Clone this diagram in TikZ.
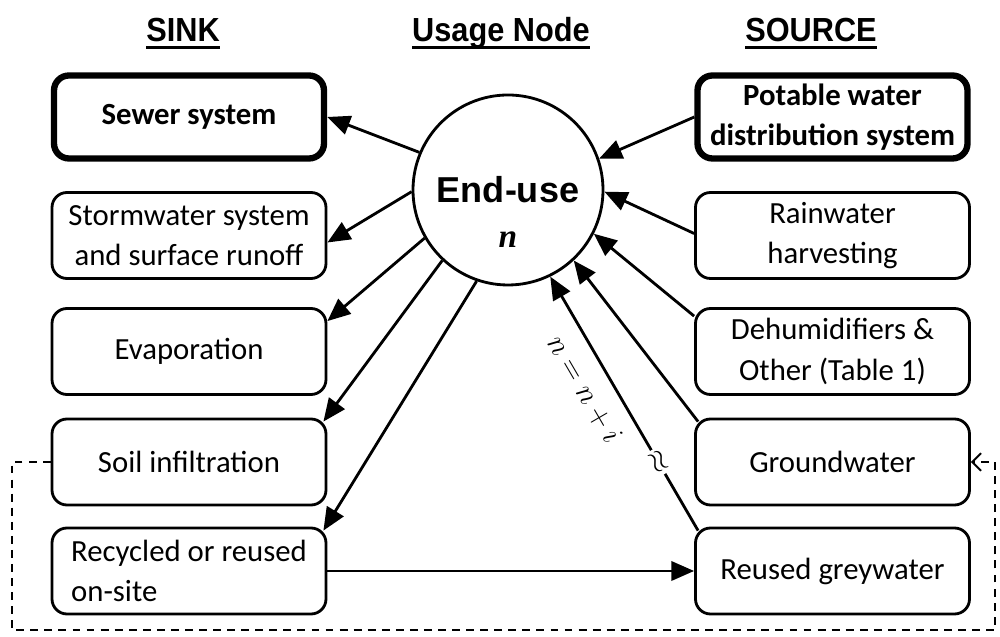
\documentclass[tikz,border=0pt]{standalone}
\usepackage{fontspec}
\setmainfont{Carlito}
\newfontfamily\headfont[FakeStretch=0.92]{Liberation Sans}
\newfontfamily\arialfont{Liberation Sans}
\newfontfamily\timesfont{Liberation Serif}
\usetikzlibrary{arrows.meta}
\newcommand{\headul}[1]{\setbox0\hbox{#1}\rlap{\rule[-4pt]{\wd0}{1.6pt}}\box0}

\begin{document}
\begin{tikzpicture}
            [box/.style={draw, rounded corners=0.3cm, line width=1.6pt, minimum width=5.48cm, minimum height=1.72cm, inner sep=0pt, align=center, font=\fontsize{17.5}{23}\selectfont},
            thickbox/.style={box, line width=3.6pt, minimum width=5.4cm, minimum height=1.66cm, font=\fontsize{17.5}{23}\selectfont\bfseries},
            heading/.style={anchor=base, font=\headfont\bfseries\fontsize{19}{22}\selectfont},
            arr/.style={-{Triangle[length=13pt,width=11pt]}, line width=1.6pt},
            feedback/.style={-{Straight Barb[length=5pt,width=10pt]}, line width=1.1pt, dash pattern=on 4.5pt off 3.5pt}]

            \useasboundingbox (0,0) rectangle (20,12.74);

            \node[heading] (sinkhead) at (3.66,11.9) {\headul{SINK}};
            \node[heading] (usagehead) at (10.02,11.9) {\headul{Usage Node}};
            \node[heading] (sourcehead) at (16.22,11.9) {\headul{SOURCE}};

            \node[circle, draw, line width=1.6pt, minimum size=3.8cm, inner sep=0pt,
                font=\arialfont\bfseries\fontsize{20.5}{24}\selectfont,
                label={[font=\timesfont\bfseries\itshape\fontsize{19}{22}\selectfont, yshift=-1.0cm]center:n}]
                (enduse) at (10.16,8.94) {End-use};

            \node[thickbox] (sewer) at (3.78,10.4) {Sewer system};
            \node[box] (storm) at (3.78,8.03) {Stormwater system\\and surface runoff};
            \node[box] (evap) at (3.78,5.71) {Evaporation};
            \node[box] (soil) at (3.78,3.5) {Soil infiltration};
            \node[box, align=left] (recyc) at (3.78,1.32) {Recycled or reused\\on-site};

            \node[thickbox] (potable) at (16.65,10.4) {Potable water\\distribution system};
            \node[box] (rain) at (16.65,8.03) {Rainwater\\harvesting};
            \node[box] (dehum) at (16.65,5.71) {Dehumidifiers \&\\Other (Table 1)};
            \node[box] (ground) at (16.65,3.5) {Groundwater};
            \node[box] (reused) at (16.65,1.32) {Reused greywater};

            \draw[arr] (enduse.157) -- (sewer.east);
            \draw[arr] (enduse.181) -- ([yshift=-0.14cm]storm.east);
            \draw[arr] (enduse.210) -- ([yshift=-0.28cm]evap.north east);
            \draw[arr] (enduse.227) -- ([shift={(-0.08,-0.08)}]soil.north east);
            \draw[arr] (enduse.251) -- ([shift={(-0.08,-0.08)}]recyc.north east);

            \draw[arr] (potable.west) -- (enduse.19);
            \draw[arr] ([yshift=0.04cm]rain.west) -- (enduse.-1);
            \draw[arr] ([yshift=-0.18cm]dehum.north west) -- (enduse.-27);
            \draw[arr] ([shift={(0.08,-0.08)}]ground.north west) -- (enduse.-47);
            \draw[arr] ([shift={(0.08,-0.08)}]reused.north west)
                -- node[pos=0.27, sloped, fill=white, inner sep=1pt, font=\fontsize{16}{18}\selectfont] {$\approx$}
                   node[pos=0.61, sloped, below=0.3cm, inner sep=0pt, font=\fontsize{16}{18}\selectfont] {$n=n+i$}
                (enduse.-64);

            \draw[arr] (recyc.east) -- (reused.west);

            \coordinate (loopleft) at (0.24,0.14);
            \coordinate (loopright) at (19.9,0.14);
            \draw[feedback] (soil.west) -| (loopleft) -- (loopright) |- (ground.east);
\end{tikzpicture}
\end{document}
